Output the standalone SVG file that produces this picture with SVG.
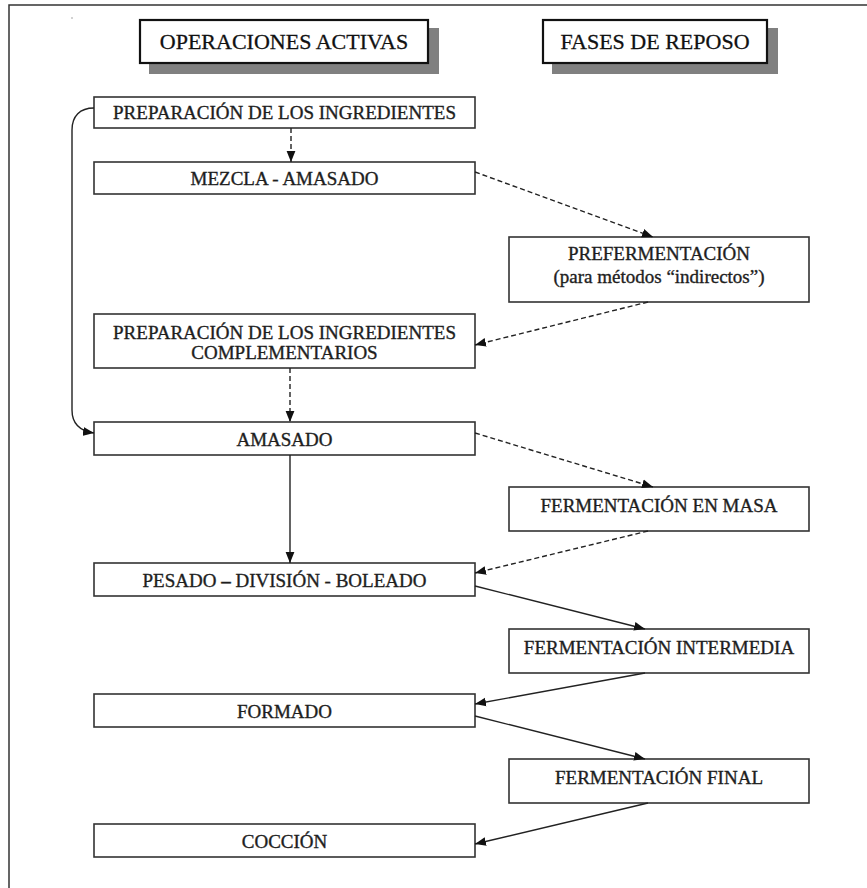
<svg xmlns="http://www.w3.org/2000/svg" width="867" height="888" viewBox="0 0 867 888">
<style>
.box{fill:#fff;stroke:#333;stroke-width:1.6}
.hdr{fill:#fff;stroke:#111;stroke-width:2.2}
.shadow{fill:#808080}
.t{font-family:"Liberation Serif","Times New Roman",serif;font-size:19px;fill:#1e1e1e;stroke:#1e1e1e;stroke-width:0.35;text-anchor:middle}
.th{font-family:"Liberation Serif","Times New Roman",serif;font-size:22px;fill:#111;stroke:#111;stroke-width:0.3;text-anchor:middle}
.c{fill:none;stroke:#222;stroke-width:1.4}
.d{stroke-dasharray:5 3}
</style>
<defs>
<marker id="ah" viewBox="0 0 11 10" refX="11" refY="5" markerWidth="11" markerHeight="10" markerUnits="userSpaceOnUse" orient="auto">
<path d="M0,0.6 L11,5 L0,9.4 Z" fill="#111"/>
</marker>
</defs>
<rect width="867" height="888" fill="#fff"/>
<path d="M9,888 L9,5 L867,5" fill="none" stroke="#333" stroke-width="1.5"/>
<circle cx="72" cy="18" r="0.8" fill="#999"/>

<g id="hdr-activas">
<rect class="shadow" x="149" y="28" width="290" height="46"/>
<rect class="hdr" x="140" y="20" width="288" height="43"/>
<text class="th" x="284" y="49">OPERACIONES ACTIVAS</text>
</g>
<g id="hdr-reposo">
<rect class="shadow" x="552" y="28" width="226" height="46"/>
<rect class="hdr" x="543" y="20" width="224" height="43"/>
<text class="th" x="655" y="49">FASES DE REPOSO</text>
</g>

<g id="n-prep">
<rect class="box" x="94" y="97" width="381" height="31"/>
<text class="t" x="284.5" y="119">PREPARACIÓN DE LOS INGREDIENTES</text>
</g>
<g id="n-mezcla">
<rect class="box" x="94" y="162" width="381" height="32"/>
<text class="t" x="284.5" y="184.5">MEZCLA - AMASADO</text>
</g>
<g id="n-preferm">
<rect class="box" x="509" y="237" width="300" height="65"/>
<text class="t" x="659" y="259.5">PREFERMENTACIÓN</text>
<text class="t" x="659" y="282.5">(para métodos “indirectos”)</text>
</g>
<g id="n-compl">
<rect class="box" x="94" y="314" width="381" height="54"/>
<text class="t" x="284.5" y="338.5">PREPARACIÓN DE LOS INGREDIENTES</text>
<text class="t" x="284.5" y="358.5">COMPLEMENTARIOS</text>
</g>
<g id="n-amasado">
<rect class="box" x="94" y="422" width="381" height="33"/>
<text class="t" x="284.5" y="445.5">AMASADO</text>
</g>
<g id="n-fmasa">
<rect class="box" x="509" y="487" width="300" height="44"/>
<text class="t" x="659" y="511.5">FERMENTACIÓN EN MASA</text>
</g>
<g id="n-pesado">
<rect class="box" x="94" y="563" width="381" height="33"/>
<text class="t" x="284.5" y="586.5">PESADO <tspan font-weight="bold">–</tspan> DIVISIÓN - BOLEADO</text>
</g>
<g id="n-finter">
<rect class="box" x="509" y="629" width="300" height="44"/>
<text class="t" x="659" y="653.5">FERMENTACIÓN INTERMEDIA</text>
</g>
<g id="n-formado">
<rect class="box" x="94" y="694" width="381" height="33"/>
<text class="t" x="284.5" y="717.5">FORMADO</text>
</g>
<g id="n-ffinal">
<rect class="box" x="509" y="759" width="300" height="44"/>
<text class="t" x="659" y="783.5">FERMENTACIÓN FINAL</text>
</g>
<g id="n-coccion">
<rect class="box" x="94" y="824" width="381" height="33"/>
<text class="t" x="284.5" y="847.5">COCCIÓN</text>
</g>

<g id="connectors">
<path class="c d" d="M291,128 L291,162" marker-end="url(#ah)"/>
<path class="c d" d="M475,172 L653,237" marker-end="url(#ah)"/>
<path class="c d" d="M648,302 L475,345" marker-end="url(#ah)"/>
<path class="c d" d="M290,368 L290,422" marker-end="url(#ah)"/>
<path class="c" d="M94,108 C80,108 72,116 72,130 L72,410 C72,424 80,431 94,433" marker-end="url(#ah)"/>
<path class="c d" d="M475,433 L653,487" marker-end="url(#ah)"/>
<path class="c" d="M290,455 L290,563" marker-end="url(#ah)"/>
<path class="c d" d="M648,531 L475,573" marker-end="url(#ah)"/>
<path class="c" d="M475,586 L645,629" marker-end="url(#ah)"/>
<path class="c" d="M645,673 L475,704" marker-end="url(#ah)"/>
<path class="c" d="M475,716 L645,759" marker-end="url(#ah)"/>
<path class="c" d="M648,803 L475,844" marker-end="url(#ah)"/>
</g>
</svg>
